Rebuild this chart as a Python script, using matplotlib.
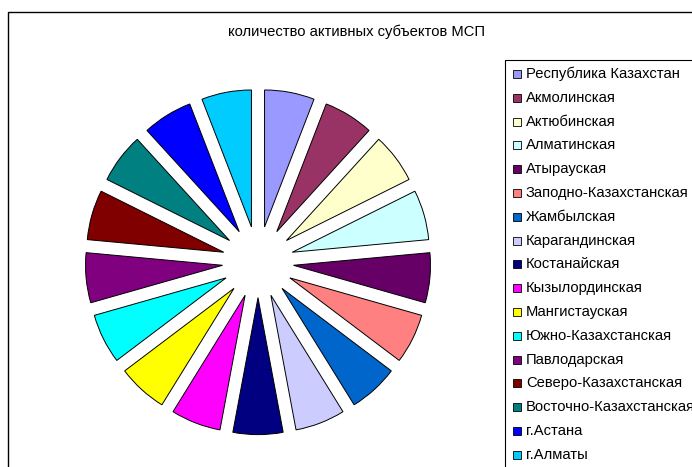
import matplotlib.pyplot as plt
from matplotlib.patches import Rectangle

plt.rcParams['font.family'] = ['Liberation Sans', 'DejaVu Sans']

regions = ['Республика Казахстан', 'Акмолинская', 'Актюбинская', 'Алматинская',
           'Атырауская', 'Заподно-Казахстанская', 'Жамбылская', 'Карагандинская',
           'Костанайская', 'Кызылординская', 'Мангистауская', 'Южно-Казахстанская',
           'Павлодарская', 'Северо-Казахстанская', 'Восточно-Казахстанская',
           'г.Астана', 'г.Алматы']
values = [1, 1, 1, 1, 1, 1, 1, 1, 1, 1, 1, 1, 1, 1, 1, 1, 1]
colors = ['#9999FF', '#993366', '#FFFFCC', '#CCFFFF', '#660066', '#FF8080',
          '#0066CC', '#CCCCFF', '#000080', '#FF00FF', '#FFFF00', '#00FFFF',
          '#800080', '#800000', '#008080', '#0000FF', '#00CCFF']
explode = [0.26] * len(values)

W, H = 692, 467
fig = plt.figure(figsize=(W / 100, H / 100), dpi=100)

# chart area border (runs off the right and bottom edges)
fig.patches.append(Rectangle((8 / W, -0.05), 1.1, 1.05 - 12 / H, transform=fig.transFigure,
                             fill=False, edgecolor='black', linewidth=1.0))

cx, cy, half = 258, 262, 180
ax = fig.add_axes([(cx - half) / W, 1 - (cy + half) / H, 2 * half / W, 2 * half / H])
ax.pie(values, colors=colors, explode=explode, startangle=90, counterclock=False,
       wedgeprops=dict(edgecolor='black', linewidth=0.7))
lim = half / 137
ax.set_xlim(-lim, lim)
ax.set_ylim(-lim, lim)
ax.set_aspect('equal')
ax.axis('off')

fig.text(357 / W, 1 - 32 / H, 'количество активных субъектов МСП',
         ha='center', va='center', fontsize=10.6)

# legend
fig.patches.append(Rectangle((505 / W, -0.05), 0.5, 1.05 - 60 / H, transform=fig.transFigure,
                             fill=False, edgecolor='black', linewidth=0.8))
for i, (name, col) in enumerate(zip(regions, colors)):
    y = 74 + i * 23.8
    fig.patches.append(Rectangle((513 / W, 1 - (y + 4) / H), 8 / W, 8 / H,
                                 transform=fig.transFigure, facecolor=col,
                                 edgecolor='black', linewidth=0.6))
    fig.text(526 / W, 1 - y / H, name, ha='left', va='center', fontsize=10.6)

fig.savefig('out.png', dpi=100)
